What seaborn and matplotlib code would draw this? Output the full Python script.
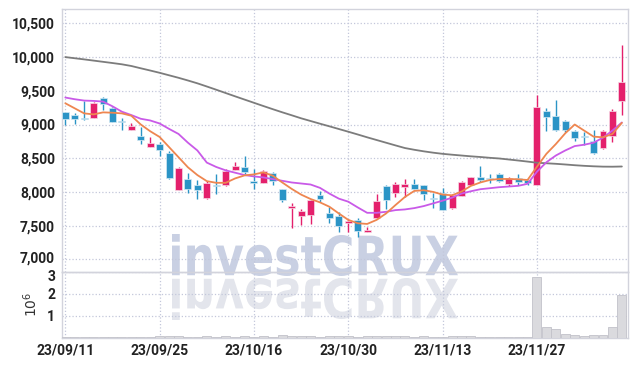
import numpy as np
import pandas as pd
import seaborn as sns
import matplotlib.pyplot as plt
from matplotlib.textpath import TextPath
from matplotlib.patches import PathPatch
from matplotlib.font_manager import FontProperties
from matplotlib.transforms import Affine2D, ScaledTranslation
from matplotlib.ticker import FuncFormatter

# trading days (Korean market, 2023)
dates = ['23/09/11', '23/09/12', '23/09/13', '23/09/14', '23/09/15',
         '23/09/18', '23/09/19', '23/09/20', '23/09/21', '23/09/22',
         '23/09/25', '23/09/26', '23/09/27', '23/10/04', '23/10/05',
         '23/10/06', '23/10/10', '23/10/11', '23/10/12', '23/10/13',
         '23/10/16', '23/10/17', '23/10/18', '23/10/19', '23/10/20',
         '23/10/23', '23/10/24', '23/10/25', '23/10/26', '23/10/27',
         '23/10/30', '23/10/31', '23/11/01', '23/11/02', '23/11/03',
         '23/11/06', '23/11/07', '23/11/08', '23/11/09', '23/11/10',
         '23/11/13', '23/11/14', '23/11/15', '23/11/16', '23/11/17',
         '23/11/20', '23/11/21', '23/11/22', '23/11/23', '23/11/24',
         '23/11/27', '23/11/28', '23/11/29', '23/11/30', '23/12/01',
         '23/12/04', '23/12/05', '23/12/06', '23/12/07', '23/12/08']

open_ = [9180, 9140, 9100, 9100, 9400, 9250, 9040, 8925, 8830, 8665,
         8710, 8570, 8025, 8190, 8105, 7905, 8110, 8100, 8325, 8370,
         8165, 8130, 8280, 8045, 7755, 7640, 7655, 7955, 7690, 7640,
         7535, 7585, 7400, 7620, 8085, 7985, 8080, 8115, 8100, 7915,
         7990, 7755, 7940, 8105, 8225, 8205, 8265, 8115, 8210, 8175,
         8105, 9205, 9120, 9045, 8900, 8825, 8750, 8650, 8825, 9345]
high = [9190, 9170, 9350, 9340, 9410, 9260, 9090, 9025, 8970, 8810,
        8740, 8600, 8370, 8275, 8175, 8160, 8265, 8340, 8440, 8535,
        8340, 8330, 8290, 8045, 7835, 7750, 7895, 8020, 7780, 7705,
        7595, 7620, 7485, 7975, 8100, 8145, 8195, 8195, 8100, 7990,
        8060, 7965, 8165, 8225, 8380, 8265, 8280, 8220, 8265, 8195,
        9435, 9245, 9365, 9070, 8920, 8890, 8920, 8920, 9225, 10185]
low = [9000, 9005, 9060, 9100, 9215, 9030, 8915, 8925, 8710, 8665,
       8540, 8190, 8025, 7980, 7890, 7890, 7970, 8095, 8320, 8260,
       8040, 8125, 8100, 7850, 7470, 7515, 7530, 7850, 7535, 7410,
       7410, 7330, 7400, 7620, 7745, 7925, 7925, 8050, 7885, 7755,
       7730, 7745, 7935, 8105, 8150, 8130, 8140, 8085, 8105, 8110,
       8100, 8910, 8910, 8890, 8750, 8690, 8560, 8630, 8740, 9145]
close = [9080, 9085, 9085, 9315, 9300, 9030, 9030, 8980, 8775, 8720,
         8615, 8200, 8360, 8040, 8035, 8135, 8085, 8315, 8385, 8300,
         8125, 8315, 8155, 7875, 7795, 7710, 7880, 7890, 7615, 7495,
         7570, 7425, 7435, 7860, 7880, 8115, 8115, 8050, 7975, 7890,
         7730, 7950, 8150, 8225, 8175, 8195, 8165, 8200, 8140, 8130,
         9265, 9110, 8920, 8920, 8800, 8810, 8580, 8910, 9205, 9625]

ma_short = [9315, 9240, 9165, 9150, 9180, 9175, 9165, 9130, 9000, 8900,
            8815, 8665, 8515, 8365, 8250, 8160, 8135, 8135, 8200, 8245,
            8260, 8290, 8240, 8140, 8045, 7960, 7895, 7845, 7780, 7680,
            7585, 7535, 7525, 7585, 7680, 7805, 7925, 8015, 8025, 8000,
            7960, 7950, 8005, 8090, 8140, 8177, 8192, 8192, 8187, 8177,
            8375, 8565, 8710, 8870, 9000, 8910, 8820, 8810, 8860, 9025]
ma_mid = [9400, 9375, 9355, 9350, 9340, 9270, 9190, 9140, 9085, 9060,
          9015, 8935, 8860, 8730, 8615, 8435, 8370, 8320, 8285, 8250,
          8230, 8215, 8190, 8165, 8140, 8125, 8110, 8060, 7975, 7900,
          7855, 7770, 7690, 7690, 7705, 7730, 7740, 7760, 7790, 7830,
          7870, 7915, 7975, 8010, 8040, 8055, 8070, 8080, 8090, 8120,
          8300, 8440, 8540, 8615, 8680, 8700, 8730, 8805, 8910, 9030]
ma_long = [10000, 9983, 9966, 9948, 9930, 9912, 9893, 9868, 9834, 9801,
           9767, 9730, 9693, 9653, 9611, 9564, 9516, 9467, 9418, 9370,
           9322, 9274, 9227, 9181, 9137, 9092, 9052, 9012, 8973, 8933,
           8893, 8852, 8810, 8770, 8730, 8690, 8651, 8625, 8602, 8582,
           8565, 8552, 8540, 8528, 8518, 8506, 8496, 8481, 8466, 8450,
           8433, 8425, 8417, 8407, 8396, 8387, 8380, 8375, 8374, 8377]

# volume, millions of shares
volume = [0.03, 0.04, 0.03, 0.04, 0.03, 0.03, 0.02, 0.03, 0.03, 0.03,
          0.05, 0.09, 0.06, 0.04, 0.04, 0.05, 0.03, 0.05, 0.04, 0.05,
          0.04, 0.05, 0.04, 0.10, 0.07, 0.05, 0.06, 0.04, 0.05, 0.05,
          0.05, 0.04, 0.05, 0.09, 0.06, 0.05, 0.05, 0.04, 0.05, 0.03,
          0.04, 0.05, 0.06, 0.05, 0.04, 0.04, 0.04, 0.04, 0.04, 0.03,
          2.75, 0.46, 0.41, 0.18, 0.13, 0.08, 0.13, 0.13, 0.46, 1.93]

UP, DOWN = '#e4206c', '#2b94c6'

df = pd.DataFrame({'date': dates, 'open': open_, 'high': high, 'low': low,
                   'close': close, 'volume': volume})
df['idx'] = np.arange(len(df))

sns.set_style('white')
plt.rcParams['font.family'] = ['DejaVu Sans']

W, H = 634, 366
fig = plt.figure(figsize=(W / 100, H / 100), dpi=100)
ax = fig.add_axes([62 / W, 1 - 272 / H, 566 / W, (272 - 9.3) / H])
axv = fig.add_axes([62 / W, 1 - 337.5 / H, 566 / W, (337.5 - 272) / H])
for a in (ax, axv):
    a.set_facecolor('none')

# watermark + reflection
prop = FontProperties(family='DejaVu Sans', weight='bold')
tp = TextPath((0, 0), 'investCRUX', size=1, prop=prop)
ext = tp.get_extents()
sx = (458 - 172) / ext.width
sy = (276 - 234) / ext.height
t_main = Affine2D().translate(-ext.x0, -ext.y0).scale(sx, sy).translate(172, H - 276)
t_refl = Affine2D().translate(-ext.x0, -ext.y0).scale(sx, -sy).translate(172, H - 278)
fig.add_artist(PathPatch(tp, transform=t_main, facecolor='#c9d0e3',
                         edgecolor='none', zorder=-1))
fig.add_artist(PathPatch(tp, transform=t_refl, facecolor='#e3e5ec',
                         edgecolor='none', zorder=-1))

# candles
for up, col in [(True, UP), (False, DOWN)]:
    d = df[(df['close'] >= df['open']) == up]
    ax.vlines(d['idx'], d['low'], d['high'], color=col, lw=1.0, zorder=3)
    body = (d['close'] - d['open']).abs().clip(lower=18)
    bottom = d[['open', 'close']].min(axis=1)
    ax.bar(d['idx'], body, bottom=bottom, width=0.74, color=col,
           edgecolor='#f6dbe6' if up else '#d6eaf4', linewidth=0.5, zorder=4)

sns.lineplot(x=df['idx'], y=ma_long, color='#7c7c7c', lw=1.3, ax=ax, zorder=5)
sns.lineplot(x=df['idx'], y=ma_mid, color='#c95ae8', lw=1.3, ax=ax, zorder=6)
sns.lineplot(x=df['idx'], y=ma_short, color='#ee8650', lw=1.3, ax=ax, zorder=7)

sns.barplot(x=df['idx'], y=df['volume'], ax=axv, color='#dadade',
            edgecolor='#c2c2ca', linewidth=0.6, width=0.95, saturation=1,
            zorder=3)

# axes styling
ax.set_xlim(-0.35, 59.65)
axv.set_xlim(-0.35, 59.65)
ax.set_ylim(6812, 10709)
axv.set_ylim(0, 3)
ax.set_yticks(range(7000, 10501, 500))
ax.yaxis.set_major_formatter(FuncFormatter(lambda v, p: f'{v:,.0f}'))
ax.set_xticks(range(0, 60, 10))
ax.tick_params(labelbottom=False)
axv.set_yticks([1, 2, 3])
axv.set_xticks(range(0, 60, 10))
axv.set_xticklabels(dates[::10])
ax.set_xlabel('')
ax.set_ylabel('')
axv.set_xlabel('')
axv.set_ylabel('$10^6$', fontsize=10, color='#333333')
axv.yaxis.set_label_coords(-0.038, 0.5)

for a in (ax, axv):
    a.grid(True, ls=':', color='#c3c7da', lw=0.9, zorder=0)
    a.set_axisbelow(True)
    a.tick_params(length=0, labelsize=10, colors='#222222', pad=5)
    for s in a.spines.values():
        s.set_color('#d2d3dc')
        s.set_linewidth(1)
    for lab in a.get_xticklabels() + a.get_yticklabels():
        lab.set_fontfamily('Roboto')
        lab.set_fontweight('bold')
axv.tick_params(axis='x', pad=4)

# nudge the two labels that meet at the panel join apart
lab3 = axv.yaxis.get_major_ticks()[-1].label1
lab3.set_transform(lab3.get_transform() + ScaledTranslation(0, -2.5 / 72, fig.dpi_scale_trans))
lab7 = ax.yaxis.get_major_ticks()[0].label1
lab7.set_transform(lab7.get_transform() + ScaledTranslation(0, 1.5 / 72, fig.dpi_scale_trans))

fig.savefig('out.png', dpi=100, facecolor='white')
